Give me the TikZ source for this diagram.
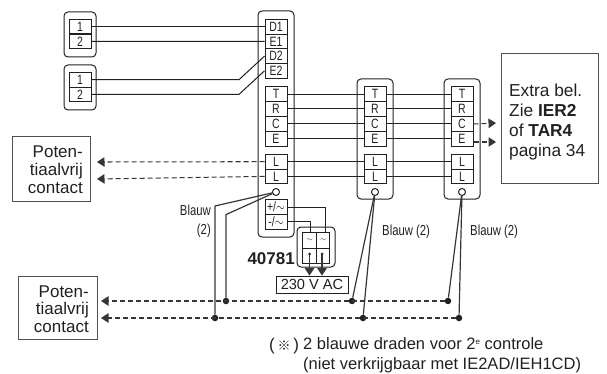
\documentclass[tikz,border=0pt]{standalone}
\usepackage{graphicx}
\usepackage{fontspec}
\setmainfont{Liberation Sans}
\newfontfamily\cjkfont{Noto Sans CJK JP}
\usetikzlibrary{arrows.meta}
\definecolor{inkline}{HTML}{231F20}
\definecolor{boxline}{HTML}{505050}
\newcommand{\nar}[1]{\scalebox{0.78}[1]{#1}}
\tikzset{
  wire/.style={draw=inkline,line width=1pt},
  bluewire/.style={draw=inkline!90,line width=1.2pt},
  dashwire/.style={draw=inkline!90,line width=1.05pt,dash pattern=on 5pt off 3pt},
  tipped/.style={-{Triangle[length=7.5pt,width=9.5pt]}},
  term/.style={draw=inkline,line width=1pt,minimum width=22pt,minimum height=14.7pt,inner sep=0pt,font=\fontsize{13.5}{13.5}\selectfont,text=inkline},
  panel/.style={draw=inkline,line width=1pt,rounded corners=4pt,minimum width=#1,inner sep=0pt},
  ring/.style={draw=inkline,line width=1pt,circle,minimum size=7pt,inner sep=0pt},
  dot/.style={fill=inkline,circle,minimum size=6.5pt,inner sep=0pt},
  infobox/.style={draw=boxline,line width=1pt,inner sep=0pt,text=inkline},
  note/.style={inner sep=0pt,text=inkline,font=\fontsize{14.5}{14.5}\selectfont},
}
\begin{document}
\begin{tikzpicture}[x=1pt,y=-1pt]
\useasboundingbox (0,0) rectangle (607,374);
%Panels behind the terminals
  \node[panel=32pt,minimum height=45pt] (groupA) at (80,34.5) {};
  \node[panel=32pt,minimum height=45pt] (groupB) at (80,87.5) {};
  \node[panel=36pt,minimum height=226pt] (panelMain) at (276,124) {};
  \node[panel=36pt,minimum height=120pt] (panelMid) at (375,139) {};
  \node[panel=36pt,minimum height=120pt] (panelEnd) at (462,139) {};
  \node[panel=38pt,minimum height=40pt] (relay) at (316,247) {};
%Loose terminals
  \node[term] (oneA) at (80,26.7) {\nar{1}};
  \node[term] (twoA) at (80,41.3) {\nar{2}};
  \node[term] (oneB) at (80,79.7) {\nar{1}};
  \node[term] (twoB) at (80,94.4) {\nar{2}};
%Main terminals
  \node[term] (dOne) at (276,26.7) {\nar{D1}};
  \node[term] (eOne) at (276,41.4) {\nar{E1}};
  \node[term] (dTwo) at (276,56.1) {\nar{D2}};
  \node[term] (eTwo) at (276,70.8) {\nar{E2}};
  \node[term] (mainT) at (276,94.3) {\nar{T}};
  \node[term] (mainR) at (276,109) {\nar{R}};
  \node[term] (mainC) at (276,124) {\nar{C}};
  \node[term] (mainE) at (276,139) {\nar{E}};
  \node[term] (mainLa) at (276,161.7) {\nar{L}};
  \node[term] (mainLb) at (276,176.4) {\nar{L}};
  \node[term] (plus) at (276,207) {\nar{+/$\sim$}};
  \node[term] (minus) at (276,221.7) {\nar{-/$\sim$}};
  \node[ring] (mainRing) at (276,192) {};
%Middle terminals
  \node[term] (midT) at (375,94.3) {\nar{T}};
  \node[term] (midR) at (375,109) {\nar{R}};
  \node[term] (midC) at (375,124) {\nar{C}};
  \node[term] (midE) at (375,139) {\nar{E}};
  \node[term] (midLa) at (375,161.7) {\nar{L}};
  \node[term] (midLb) at (375,176.4) {\nar{L}};
  \node[ring] (midRing) at (375,192) {};
%Last terminals
  \node[term] (endT) at (462,94.3) {\nar{T}};
  \node[term] (endR) at (462,109) {\nar{R}};
  \node[term] (endC) at (462,124) {\nar{C}};
  \node[term] (endE) at (462,139) {\nar{E}};
  \node[term] (endLa) at (462,161.7) {\nar{L}};
  \node[term] (endLb) at (462,176.4) {\nar{L}};
  \node[ring] (endRing) at (462,192) {};
%Relay cells
  \node[term,minimum width=13.5pt,minimum height=16pt,font=\scriptsize] (cellA) at (309.7,240) {$\sim$};
  \node[term,minimum width=13.5pt,minimum height=16pt,font=\scriptsize] (cellB) at (323.2,240) {$\sim$};
  \node[term,minimum width=13.5pt,minimum height=15pt] (cellC) at (309.7,255.5) {};
  \node[term,minimum width=13.5pt,minimum height=15pt] (cellD) at (323.2,255.5) {};
%Boxes
  \node[infobox,minimum width=78pt,minimum height=64pt] (contactTop) at (51,169) {};
  \node[infobox,minimum width=79pt,minimum height=63pt] (contactLow) at (57.5,307.5) {};
  \node[infobox,minimum width=97pt,minimum height=129pt] (extra) at (549.5,118.5) {};
  \node[draw=inkline,line width=0.8pt,minimum width=72pt,minimum height=17pt,inner sep=0pt,font=\fontsize{14.6}{14.6}\selectfont,text=inkline] (mains) at (312,284.5) {230 V AC};
%Box texts
  \node[inner sep=0pt,text=inkline,align=right,anchor=east,font=\fontsize{17}{18}\selectfont] (contactTopText) at (83,170) {Poten-\\tiaalvrij\\contact};
  \node[inner sep=0pt,text=inkline,align=right,anchor=east,font=\fontsize{17}{17.3}\selectfont] (contactLowText) at (89,309) {Poten-\\tiaalvrij\\contact};
  \node[inner sep=0pt,text=inkline,align=left,anchor=west,font=\fontsize{17.3}{20.3}\selectfont] (extraText) at (509,122) {Extra bel.\\Zie \textbf{IER2}\\of \textbf{TAR4}\\pagina 34};
  \node[inner sep=0pt,text=inkline,anchor=east,font=\bfseries\fontsize{17}{17}\selectfont] (relayName) at (295,259) {40781};
  \node[note,anchor=east] (blueA) at (211,210) {\nar{Blauw}};
  \node[note,anchor=east] (blueB) at (211,231) {\nar{(2)}};
  \node[note,anchor=west] (blueMid) at (382,232) {\nar{Blauw (2)}};
  \node[note,anchor=west] (blueEnd) at (470,232) {\nar{Blauw (2)}};
  \node[inner sep=0pt,text=inkline,font=\fontsize{17}{17}\selectfont] (mark) at (284,346) {(\,{\cjkfont\fontsize{13}{13}\selectfont ※}\,)};
  \node[inner sep=0pt,text=inkline,align=left,anchor=west,font=\fontsize{16.5}{20.2}\selectfont] (footnote) at (303,355) {2 blauwe draden voor 2\raisebox{4.5pt}{\fontsize{8}{8}\selectfont e} controle\\(niet verkrijgbaar met IE2AD/IEH1CD)};
%Free ends
  \coordinate (bendA) at (239,79.7);
  \coordinate (bendB) at (239,94.4);
  \coordinate (tipTopA) at (97,162);
  \coordinate (tipTopB) at (97,179);
  \coordinate (tipLowA) at (101,301);
  \coordinate (tipLowB) at (101,318);
  \coordinate (tipC) at (496,123);
  \coordinate (tipE) at (496,142);
  \coordinate (lowEndA) at (215,206);
  \coordinate (lowEndB) at (226,214.6);
  \coordinate (startC) at (309.5,254);
  \coordinate (startD) at (322,254);
  \coordinate (plusBend) at (325,207);
  \coordinate (minusBend) at (310.5,221.7);
%Junction dots
  \node[dot] (jA) at (226,301) {};
  \node[dot] (jB) at (352,301) {};
  \node[dot] (jC) at (448,301) {};
  \node[dot] (jD) at (215,318) {};
  \node[dot] (jE) at (363,318) {};
  \node[dot] (jF) at (459,318) {};
%Wires
  \draw[wire] (oneA.east) -- (dOne.west);
  \draw[wire] (twoA.east) -- (eOne.west);
  \draw[wire] (oneB.east) -- (bendA) -- (dTwo.west);
  \draw[wire] (twoB.east) -- (bendB) -- (eTwo.west);
  \draw[wire] (mainT.east) -- (midT.west);
  \draw[wire] (mainR.east) -- (midR.west);
  \draw[wire] (mainC.east) -- (midC.west);
  \draw[wire] (mainE.east) -- (midE.west);
  \draw[wire] (mainLa.east) -- (midLa.west);
  \draw[wire] (mainLb.east) -- (midLb.west);
  \draw[wire] (midT.east) -- (endT.west);
  \draw[wire] (midR.east) -- (endR.west);
  \draw[wire] (midC.east) -- (endC.west);
  \draw[wire] (midE.east) -- (endE.west);
  \draw[wire] (midLa.east) -- (endLa.west);
  \draw[wire] (midLb.east) -- (endLb.west);
  \draw[wire] (plus.east) -- (plusBend) -- (plusBend |- cellB.north);
  \draw[wire] (minus.east) -- (minusBend) -- (minusBend |- cellA.north);
%Relay to mains
  \fill[inkline] (startC) circle (1.5pt) (startD) circle (1.5pt);
  \draw[bluewire,tipped] (startC) -- (startC |- mains.north);
  \draw[bluewire,tipped] (startD) -- (startD |- mains.north);
%Dashed lines
  \draw[dashwire,tipped] (mainLa.west) -- (tipTopA);
  \draw[dashwire,tipped] (mainLb.west) -- (tipTopB);
  \draw[dashwire,tipped] (endC.east) -- (tipC);
  \draw[dashwire,tipped] (endE.east |- tipE) -- (tipE);
  \draw[dashwire,tipped] (jC) -- (tipLowA);
  \draw[dashwire,tipped] (jF) -- (tipLowB);
%Blue wires
  \draw[bluewire] (mainRing) -- (lowEndA) -- (jD);
  \draw[bluewire] (mainRing) -- (lowEndB) -- (jA);
  \draw[bluewire] (midRing) -- (jB);
  \draw[bluewire] (midRing) -- (jE);
  \draw[bluewire] (endRing) -- (jC);
  \draw[bluewire] (endRing) -- (jF);
\end{tikzpicture}
\end{document}
